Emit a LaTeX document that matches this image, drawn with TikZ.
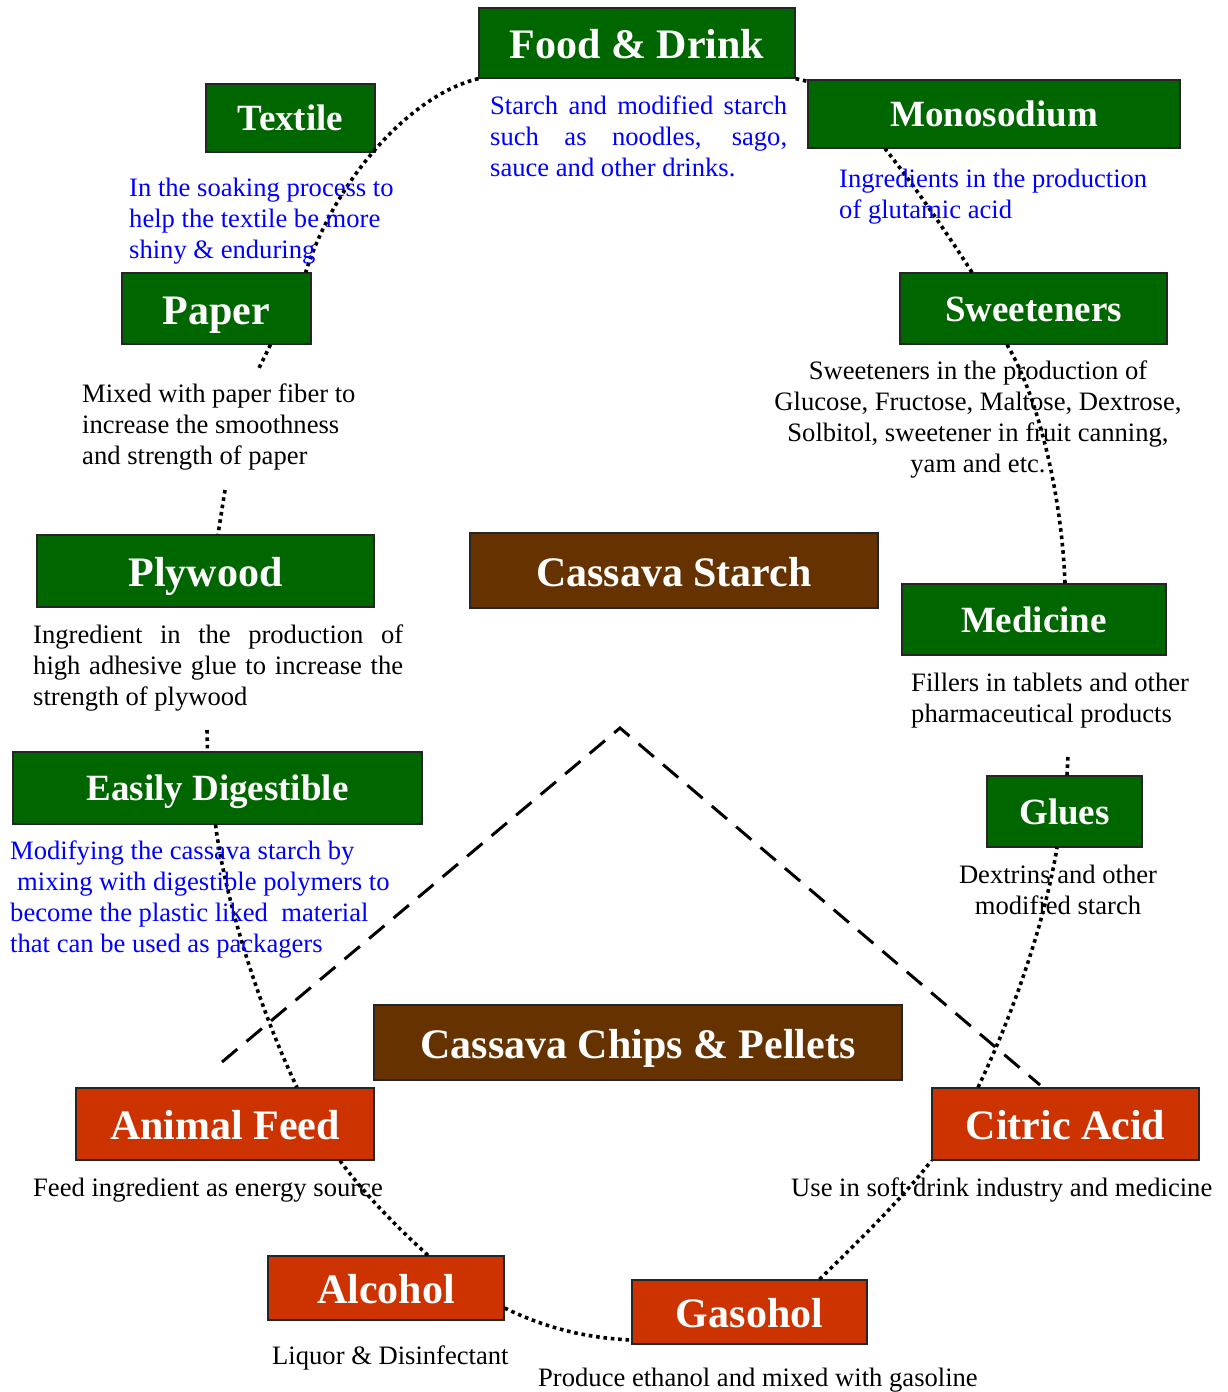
\documentclass[tikz,border=0pt]{standalone}
\usepackage{fontspec}
\setmainfont{Liberation Serif}
\begin{document}
\definecolor{leaf}{HTML}{006600}
\definecolor{bark}{HTML}{663300}
\definecolor{rust}{HTML}{CC3300}
\begin{tikzpicture}[x=1pt,y=-1pt,
  box/.style={draw=black!85, line width=1.3pt, text=white, inner sep=0pt, text depth=0pt},
  gbox/.style={box, fill=leaf},
  bbox/.style={box, fill=bark},
  rbox/.style={box, fill=rust},
  big/.style={font=\fontsize{42}{50}\selectfont\bfseries, text height=31pt},
  mid/.style={font=\fontsize{37}{44}\selectfont\bfseries, text height=25.5pt},
  desc/.style={inner sep=0pt, anchor=north west, font=\fontsize{26.6}{31}\selectfont},
  bdesc/.style={desc, text=blue},
  dotline/.style={line width=3.6pt, dash pattern=on 3.6pt off 3.8pt},
  dashline/.style={line width=3pt, dash pattern=on 20pt off 12pt}
]
\useasboundingbox (0,0) rectangle (1227,1392);

% ---- product boxes
\node[gbox, big, minimum width=316pt, minimum height=70pt] (food) at (637,43) {Food \& Drink};
\node[gbox, mid, minimum width=169pt, minimum height=68pt] (textile) at (290.5,118) {Textile};
\node[gbox, mid, minimum width=372pt, minimum height=68pt] (mono) at (994,114) {Monosodium};
\node[gbox, big, minimum width=189pt, minimum height=71pt] (paper) at (216.5,308.5) {Paper};
\node[gbox, mid, minimum width=267pt, minimum height=71pt] (sweet) at (1033.5,308.5) {Sweeteners};
\node[gbox, big, minimum width=337pt, minimum height=72pt] (plywood) at (205.5,571) {Plywood};
\node[bbox, big, minimum width=408pt, minimum height=75pt] (starch) at (674,570.5) {Cassava Starch};
\node[gbox, mid, minimum width=264pt, minimum height=71pt] (medicine) at (1034,619.5) {Medicine};
\node[gbox, mid, minimum width=409pt, minimum height=72pt] (easy) at (217.5,788) {Easily Digestible};
\node[gbox, mid, minimum width=155pt, minimum height=71pt] (glues) at (1064.5,811.5) {Glues};
\node[bbox, big, minimum width=528pt, minimum height=75pt] (chips) at (638,1042.5) {Cassava Chips \& Pellets};
\node[rbox, big, minimum width=298pt, minimum height=72pt] (animal) at (225,1124) {Animal Feed};
\node[rbox, big, minimum width=267pt, minimum height=72pt] (citric) at (1065.5,1124) {Citric Acid};
\node[rbox, big, minimum width=236pt, minimum height=64pt] (alcohol) at (386,1288) {Alcohol};
\node[rbox, big, minimum width=235pt, minimum height=64pt] (gasohol) at (749.5,1312) {Gasohol};

% ---- free ends of the dotted ring
\coordinate (paperEnd) at (259,368);
\coordinate (plyEnd) at (225,490);
\coordinate (easyEnd) at (207,730);
\coordinate (gluesEnd) at (1068,755);

% ---- dotted ring linking the products
\draw[dotline] (food.south west) .. controls (410,95) and (335,180) .. ([xshift=-6pt]paper.north east);
\draw[dotline] ([xshift=54pt]paper.south) -- (paperEnd);
\draw[dotline] (plyEnd) -- ([xshift=12.5pt]plywood.north);
\draw[dotline] (easyEnd) -- ([xshift=-10pt]easy.north);
\draw[dotline] ([xshift=-2pt]easy.south) .. controls (225,900) and (260,1010) .. ([xshift=72pt]animal.north);
\draw[dotline] ([xshift=115pt]animal.south) .. controls (365,1195) and (400,1230) .. ([xshift=42pt]alcohol.north);
\draw[dotline] ([yshift=-20pt]alcohol.east) .. controls (550,1330) and (590,1338) .. ([yshift=-28pt]gasohol.west);
\draw[dotline] ([xshift=70pt]gasohol.north) .. controls (865,1235) and (905,1195) .. (citric.south west);
\draw[dotline] ([xshift=-87.5pt]citric.north) .. controls (1015,1010) and (1045,920) .. ([xshift=-7.5pt]glues.south);
\draw[dotline] ([xshift=2.5pt]glues.north) -- (gluesEnd);
\draw[dotline] ([xshift=31pt]medicine.north) .. controls (1062,500) and (1040,400) .. ([xshift=-26.5pt]sweet.south);
\draw[dotline] ([xshift=-61.5pt]sweet.north) .. controls (945,230) and (910,180) .. ([xshift=-109pt]mono.south);
\draw[dotline] (food.south east) -- ([yshift=-2pt]mono.north west);

% ---- dashed triangle
\coordinate (triL) at (222,1062);
\coordinate (triT) at (620,728);
\coordinate (triR) at (1040,1085);
\draw[dashline] (triL) -- (triT) -- (triR);

% ---- descriptions
\node[bdesc, text width=297pt, align=justify] (fooddesc) at (490,95.5)
  {Starch and modified starch\linebreak such as noodles, sago,\linebreak sauce and other drinks.};
\node[bdesc, align=left] (textiledesc) at (129,177.5)
  {In the soaking process to\\help the textile be more\\shiny \& enduring};
\node[bdesc, align=left] (monodesc) at (839,168.5)
  {Ingredients in the production\\of glutamic acid};
\node[desc, align=left] (paperdesc) at (82,383.5)
  {Mixed with paper fiber to\\increase the smoothness\\and strength of paper};
\node[desc, anchor=north, align=center] (sweetdesc) at (978,360.5)
  {Sweeteners in the production of\\Glucose, Fructose, Maltose, Dextrose,\\Solbitol, sweetener in fruit canning,\\yam and etc.};
\node[desc, text width=370pt, align=justify] (plydesc) at (33,624.5)
  {Ingredient in the production of\linebreak high adhesive glue to increase the\linebreak strength of plywood};
\node[desc, align=left] (meddesc) at (911,672.5)
  {Fillers in tablets and other\\pharmaceutical products};
\node[bdesc, align=left] (easydesc) at (10,840.5)
  {Modifying the cassava starch by\\\hspace*{7pt}mixing with digestible polymers to\\become the plastic liked\ \ material\\that can be used as packagers};
\node[desc, anchor=north, align=center] (gluesdesc) at (1058,864.5)
  {Dextrins and other\\modified starch};
\node[desc] (animaldesc) at (33,1177.5) {Feed ingredient as energy source};
\node[desc] (citricdesc) at (791,1177.5) {Use in soft drink industry and medicine};
\node[desc] (alcdesc) at (272,1345.5) {Liquor \& Disinfectant};
\node[desc] (gasdesc) at (538,1367.5) {Produce ethanol and mixed with gasoline};
\end{tikzpicture}
\end{document}
